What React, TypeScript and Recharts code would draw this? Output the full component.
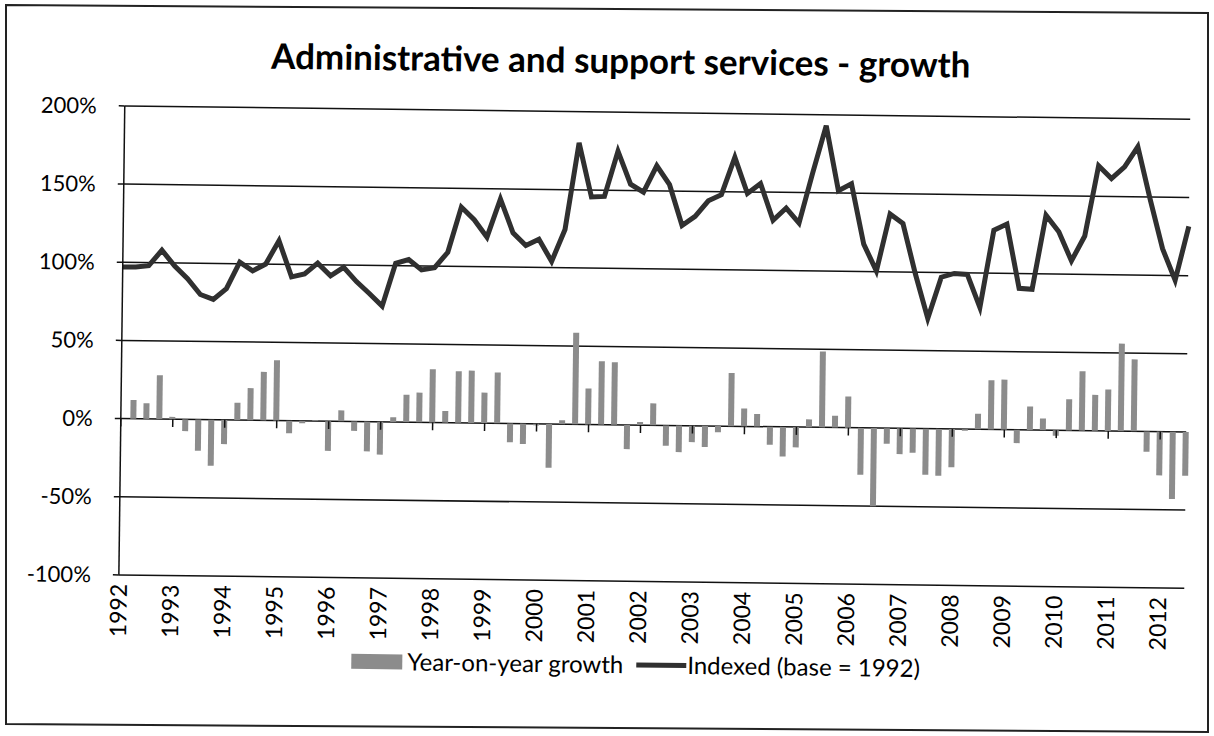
import React from 'react';
import { ComposedChart, Bar, Line, XAxis, YAxis, CartesianGrid, ReferenceLine, Legend } from 'recharts';

// Quarterly, 1992 Q1 .. 2012 Q3
const years = ['1992','1993','1994','1995','1996','1997','1998','1999','2000','2001','2002','2003','2004','2005','2006','2007','2008','2009','2010','2011','2012'];

// Indexed (base = 1992), percent
const indexedValues = [
  97, 97, 98, 108, 98, 90, 80, 77, 84, 101, 95.5, 100,
  115, 92, 94, 101, 93, 98.5, 89.5, 82, 74, 101.5, 104, 97.5,
  99, 109, 138, 130, 119, 143.5, 122, 114, 118, 104, 124.5, 180,
  145.5, 146, 175, 154, 149, 166, 154, 128, 134, 144, 148, 172,
  149, 155.5, 132, 140, 130.5, 162.5, 193, 151.5, 156, 117.5, 100.5, 137,
  131, 99, 70.5, 97, 99.5, 99, 78, 127.5, 131.5, 90.5, 90, 137.5,
  127, 108.5, 124.5, 169.5, 161.5, 169, 182, 148.5, 117, 97, 131.5
];

// Year-on-year growth, percent (no value for the first quarter)
const yoyValues: (number | null)[] = [
  null, 12, 10, 28, 1.5, -7.5, -20, -29.5, -15.5, 11, 20.5, 31,
  38.5, -8, -1.5, 0.5, -19, 7, -6, -19, -21, 3, 17.5, 19,
  34, 7.5, 33, 33.5, 19.5, 32.5, -12, -13, -1, -28, 2.5, 58.5,
  23, 40.5, 40, -15.5, 2, 14, -13, -17, -10.5, -13.5, -4, 34,
  11.5, 8, -11.5, -19, -13, 5, 48.5, 7.5, 20, -30, -50, -10,
  -16.5, -15.5, -29.5, -30, -24.5, -1, 10, 31.5, 32, -8.5, 15, 7.5,
  -3.5, 20, 38, 23, 26.5, 56, 46, -13, -28, -43, -28
];

const yTicks = [-100, -50, 0, 50, 100, 150, 200];

const data = indexedValues.map((v, i) => ({ q: i, indexed: v, yoy: yoyValues[i] }));
const yearTickPositions = years.map((_, k) => k * 4);
const lastIndex = indexedValues.length - 1;

const FONT = 'Lato, "Open Sans", sans-serif';
const BAR_COLOR = '#8c8c8c';
const LINE_COLOR = '#303030';

const YearTick = (props: any) => {
  const { x, y, payload } = props;
  const label = years[Math.round(payload.value / 4)];
  return (
    <text
      x={x}
      y={y}
      transform={`rotate(-90, ${x}, ${y})`}
      textAnchor="end"
      dy="0.35em"
      fill="#000"
      fontSize={23}
      fontFamily={FONT}
    >
      {label}
    </text>
  );
};

const LegendContent = () => (
  <div style={{ position: 'relative', width: 1214, height: 30, fontFamily: FONT, fontSize: 24, color: '#000' }}>
    <div style={{ position: 'absolute', left: 355, top: 8, width: 51, height: 15, background: BAR_COLOR }} />
    <span style={{ position: 'absolute', left: 411, top: 0, lineHeight: '30px', whiteSpace: 'nowrap' }}>Year-on-year growth</span>
    <div style={{ position: 'absolute', left: 640, top: 13, width: 50, height: 5, background: LINE_COLOR }} />
    <span style={{ position: 'absolute', left: 691, top: 0, lineHeight: '30px', whiteSpace: 'nowrap' }}>Indexed (base = 1992)</span>
  </div>
);

export default function App() {
  return (
    <div
      style={{
        position: 'absolute',
        left: 0,
        top: 0,
        width: 1214,
        height: 736,
        background: '#fff',
        overflow: 'hidden',
      }}
    >
      <svg width={1214} height={736} style={{ position: 'absolute', left: 0, top: 0 }}>
        <polygon points="6,5 1208,13 1208,732 6,724" fill="none" stroke="#222" strokeWidth={2} />
      </svg>
      <div
        style={{
          position: 'absolute',
          left: 0,
          top: 0,
          width: 1214,
          height: 736,
          transform: 'rotate(0.72deg)',
          transformOrigin: '607px 368px',
        }}
      >
        <div
          style={{
            position: 'absolute',
            left: 0,
            top: 37,
            width: 1234,
            textAlign: 'center',
            fontFamily: FONT,
            fontWeight: 700,
            fontSize: 35,
            lineHeight: '44px',
            color: '#000',
          }}
        >
          Administrative and support services - growth
        </div>
        <div style={{ position: 'absolute', left: 0, top: 0 }}>
          <ComposedChart
            width={1214}
            height={736}
            data={data}
            margin={{ top: 112, right: 27, left: 0, bottom: 0 }}
          >
            <CartesianGrid vertical={false} stroke="#111" strokeWidth={1.5} />
            <XAxis
              dataKey="q"
              type="number"
              domain={[0, lastIndex]}
              ticks={yearTickPositions}
              interval={0}
              axisLine={false}
              tickLine={false}
              tickSize={0}
              tickMargin={9}
              height={155}
              tick={<YearTick />}
            />
            <YAxis
              type="number"
              domain={[-100, 200]}
              ticks={yTicks}
              interval={0}
              width={121.5}
              tickFormatter={(v: number) => `${v}%`}
              tick={{ fill: '#000', fontSize: 22, fontFamily: FONT }}
              axisLine={{ stroke: '#111', strokeWidth: 1.5 }}
              tickLine={{ stroke: '#111', strokeWidth: 1.5 }}
              tickSize={6}
              tickMargin={22}
            />
            <Bar dataKey="yoy" fill={BAR_COLOR} barSize={6} isAnimationActive={false} />
            {yearTickPositions.map((k) => (
              <ReferenceLine
                key={k}
                segment={[{ x: k, y: 0 }, { x: k, y: -5 }]}
                stroke="#111"
                strokeWidth={1.5}
                ifOverflow="visible"
              />
            ))}
            <Line
              dataKey="indexed"
              type="linear"
              stroke={LINE_COLOR}
              strokeWidth={5}
              dot={false}
              activeDot={false}
              isAnimationActive={false}
            />
            <Legend
              layout="horizontal"
              verticalAlign="middle"
              align="center"
              wrapperStyle={{ top: 649, left: 0, width: 1214, height: 30 }}
              content={<LegendContent />}
            />
          </ComposedChart>
        </div>
      </div>
    </div>
  );
}
